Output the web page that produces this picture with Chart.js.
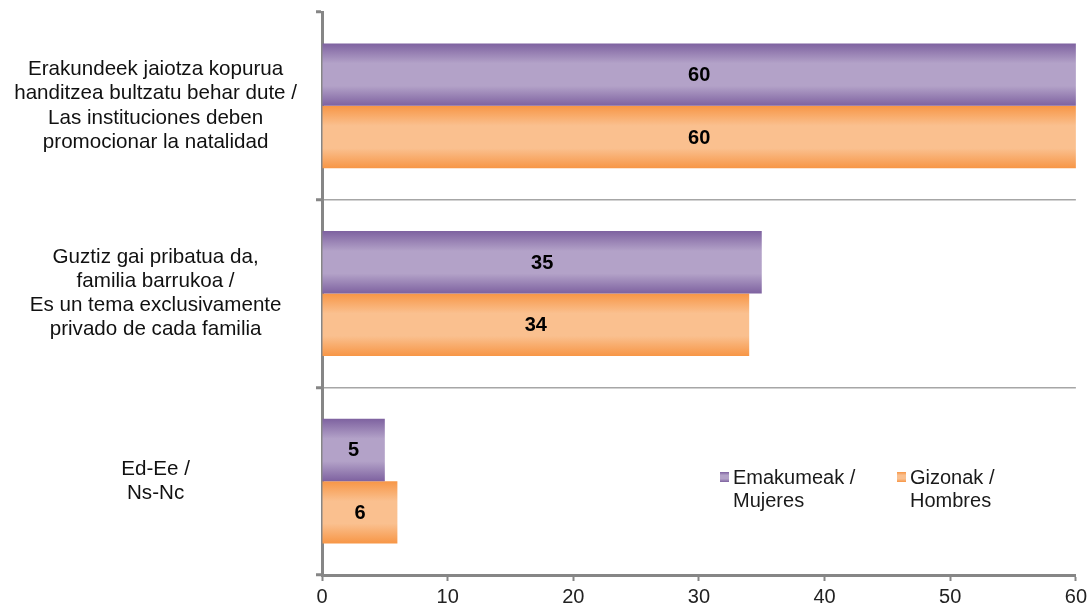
<!DOCTYPE html>
<html>
<head>
<meta charset="utf-8">
<script src="https://cdn.jsdelivr.net/npm/chart.js@4.4.0/dist/chart.umd.min.js"></script>
<style>
  html, body { margin: 0; padding: 0; background: #fff; }
  #wrap { position: relative; width: 1091px; height: 609px; }
</style>
</head>
<body>
<div id="wrap"><canvas id="chart" width="1091" height="609"></canvas></div>
<script>
const categories = [
  ["Erakundeek jaiotza kopurua", "handitzea bultzatu behar dute /", "Las instituciones deben", "promocionar la natalidad"],
  ["Guztiz gai pribatua da,", "familia barrukoa /", "Es un tema exclusivamente", "privado de cada familia"],
  ["Ed-Ee /", "Ns-Nc"]
];
const womenValues = [60, 35, 5];
const menValues = [60, 34, 6];
const seriesNames = ["Emakumeak / Mujeres", "Gizonak / Hombres"];
const legendLines = [["Emakumeak /", "Mujeres"], ["Gizonak /", "Hombres"]];
const xTicks = [0, 10, 20, 30, 40, 50, 60];

const CAT_PCT = 0.665;
const FONT = "'Liberation Sans', Arial, sans-serif";
const purple = { dark: "#7e62a0", light: "#b3a2c8" };
const orange = { dark: "#f79646", light: "#fac08f" };

function makeGrad(c, top, bottom, col) {
  const g = c.createLinearGradient(0, top, 0, bottom);
  g.addColorStop(0, col.dark);
  g.addColorStop(0.32, col.light);
  g.addColorStop(0.68, col.light);
  g.addColorStop(1, col.dark);
  return g;
}

function barFill(col) {
  return function (ctx) {
    const chart = ctx.chart;
    const y = chart.scales.y;
    if (ctx.type !== "data" || !y || !chart.chartArea) return col.dark;
    const c = y.getPixelForValue(ctx.dataIndex);
    const cw = Math.abs(y.getPixelForValue(1) - y.getPixelForValue(0));
    const half = cw * CAT_PCT / 2;
    const top = ctx.datasetIndex === 0 ? c - half : c;
    return makeGrad(chart.ctx, top, top + half, col);
  };
}

// value labels in the middle of each bar
const valueLabels = {
  id: "valueLabels",
  afterDatasetsDraw(chart) {
    const c = chart.ctx;
    c.save();
    c.font = "bold 20px " + FONT;
    c.fillStyle = "#000";
    c.textAlign = "center";
    c.textBaseline = "middle";
    chart.data.datasets.forEach((ds, di) => {
      chart.getDatasetMeta(di).data.forEach((bar, i) => {
        c.fillText(ds.data[i], (bar.x + bar.base) / 2, bar.y + 1);
      });
    });
    c.restore();
  }
};

// legend drawn inside the plot area, lower right
const innerLegend = {
  id: "innerLegend",
  afterDraw(chart) {
    const c = chart.ctx;
    const starts = [720, 897];
    const y0 = 477;
    c.save();
    c.font = "20px " + FONT;
    c.textBaseline = "middle";
    c.textAlign = "left";
    legendLines.forEach((lines, i) => {
      const col = i === 0 ? purple : orange;
      c.fillStyle = makeGrad(c, y0 - 5, y0 + 5, col);
      c.fillRect(starts[i], y0 - 5, 9, 10);
      c.fillStyle = "#1a1a1a";
      lines.forEach((t, k) => c.fillText(t, starts[i] + 13, y0 + 1 + k * 23));
    });
    c.restore();
  }
};

new Chart(document.getElementById("chart"), {
  type: "bar",
  data: {
    labels: categories,
    datasets: [
      { label: seriesNames[0], data: womenValues, backgroundColor: barFill(purple),
        categoryPercentage: CAT_PCT, barPercentage: 1.0 },
      { label: seriesNames[1], data: menValues, backgroundColor: barFill(orange),
        categoryPercentage: CAT_PCT, barPercentage: 1.0 }
    ]
  },
  options: {
    indexAxis: "y",
    responsive: false,
    animation: false,
    layout: { padding: { top: 12, right: 14, left: 0, bottom: 0 } },
    plugins: { legend: { display: false }, tooltip: { enabled: false } },
    scales: {
      x: {
        min: 0,
        max: 60,
        afterBuildTicks: (axis) => { axis.ticks = xTicks.map(v => ({ value: v })); },
        afterFit: (axis) => { axis.height = 34; },
        border: { color: "#868686", width: 3 },
        grid: { drawOnChartArea: false, tickLength: 6, tickColor: "#868686", tickWidth: 2 },
        ticks: { padding: 4, color: "#222", font: { family: FONT, size: 20 } }
      },
      y: {
        afterFit: (axis) => { axis.width = 322; axis.paddingTop = 0; axis.paddingBottom = 0; },
        border: { color: "#868686", width: 3 },
        grid: {
          offset: true,
          color: (ctx) => ctx.index === 0 ? "rgba(0,0,0,0)" : "#a6a6a6",
          lineWidth: 1.5,
          tickLength: 6,
          tickColor: "#868686",
          tickWidth: 3
        },
        ticks: {
          crossAlign: "center",
          padding: 19,
          color: "#111",
          font: { family: FONT, size: 20.6, lineHeight: 1.17 }
        }
      }
    }
  },
  plugins: [valueLabels, innerLegend]
});
</script>
</body>
</html>
